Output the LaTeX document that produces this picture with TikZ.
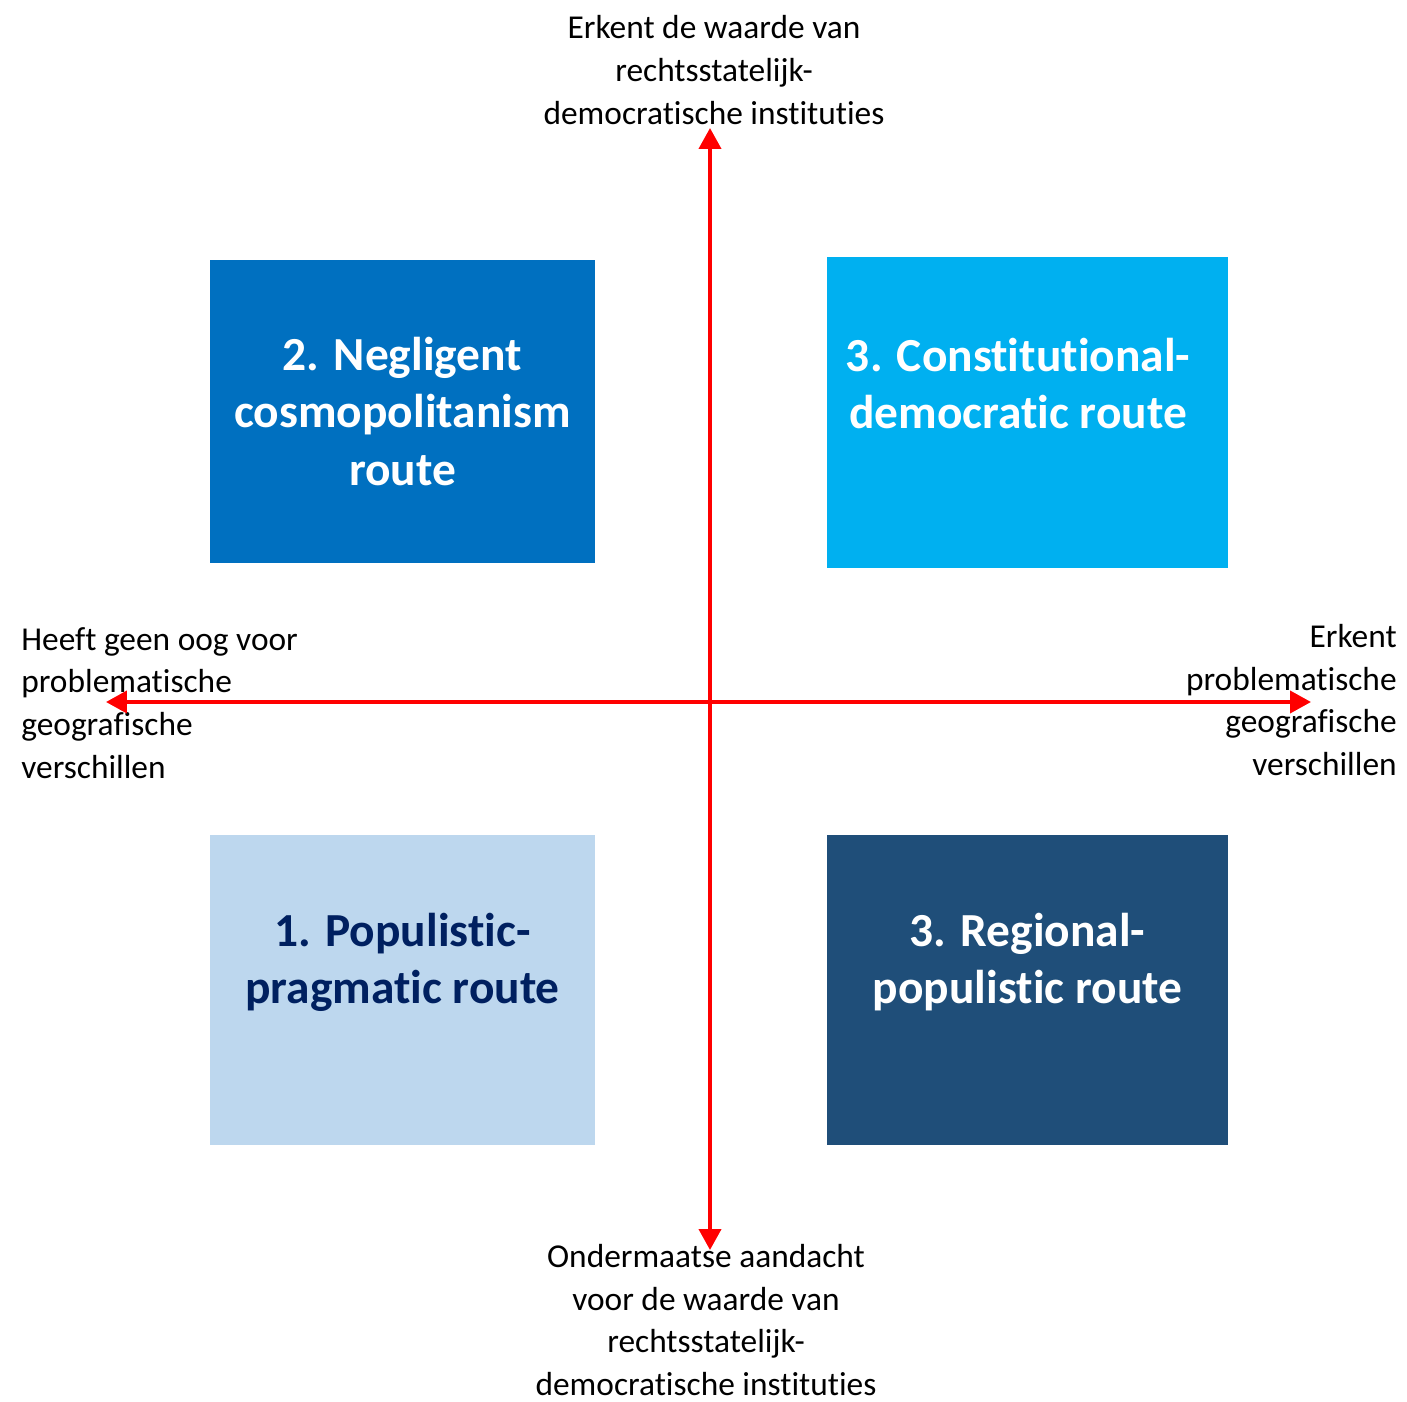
\documentclass[tikz,border=0pt]{standalone}
\usepackage{fontspec}
\setmainfont{Carlito}[Ligatures=NoCommon]
\usetikzlibrary{arrows.meta,positioning}

\definecolor{routeblue}{HTML}{0070C0}
\definecolor{routecyan}{HTML}{00B0F0}
\definecolor{routepale}{HTML}{BDD7EE}
\definecolor{routenavy}{HTML}{1F4E79}
\definecolor{textnavy}{HTML}{002060}

\tikzset{
  routebox/.style={rectangle,inner sep=0pt},
  routetext/.style={align=center,inner sep=0pt,font=\fontsize{27}{32.5}\selectfont\bfseries},
  axislabel/.style={inner sep=0pt,font=\fontsize{19}{24.4}\selectfont},
  axis/.style={red,line width=0.08cm,{Triangle[length=0.42cm,width=0.44cm]}-{Triangle[length=0.42cm,width=0.44cm]}}
}

\begin{document}
\begin{tikzpicture}[x=0.02cm,y=-0.02cm]
    \useasboundingbox (0,0) rectangle (1407,1402);

    % the four routes
    \node[routebox,fill=routeblue,minimum width=7.7cm,minimum height=6.06cm] (negligent) at (402.5,411.5) {};
    \node[routebox,fill=routecyan,minimum width=8.02cm,minimum height=6.22cm] (constitutional) at (1027.5,412.5) {};
    \node[routebox,fill=routepale,minimum width=7.7cm,minimum height=6.2cm] (populistic) at (402.5,990) {};
    \node[routebox,fill=routenavy,minimum width=8.02cm,minimum height=6.2cm] (regional) at (1027.5,990) {};

    \node[routetext,text=white] (negligenttext) at (negligent.center) {2. Negligent\\cosmopolitanism\\route};
    \node[routetext,text=white,xshift=-0.19cm,yshift=0.58cm] (constitutionaltext) at (constitutional.center) {3. Constitutional-\\democratic route};
    \node[routetext,text=textnavy,yshift=0.56cm] (populistictext) at (populistic.center) {1. Populistic-\\pragmatic route};
    \node[routetext,text=white,yshift=0.56cm] (regionaltext) at (regional.center) {3. Regional-\\populistic route};

    % axis ends
    \coordinate (north) at (710,128);
    \coordinate (south) at (710,1250);
    \coordinate (west) at (106,702);
    \coordinate (east) at (1311,702);

    % axis labels
    \node[axislabel,align=center] (northlabel) at (714,70) {Erkent de waarde van\\rechtsstatelijk-\\democratische instituties};
    \node[axislabel,align=center] (southlabel) at (706,1320) {Ondermaatse aandacht\\voor de waarde van\\rechtsstatelijk-\\democratische instituties};
    \node[axislabel,align=left,anchor=west] (westlabel) at (21,703) {Heeft geen oog voor\\problematische\\geografische\\verschillen};
    \node[axislabel,align=right,anchor=east] (eastlabel) at (1397,700) {Erkent\\problematische\\geografische\\verschillen};

    % axes
    \draw[axis] (south) -- (north);
    \draw[axis] (west) -- (east);
\end{tikzpicture}
\end{document}
